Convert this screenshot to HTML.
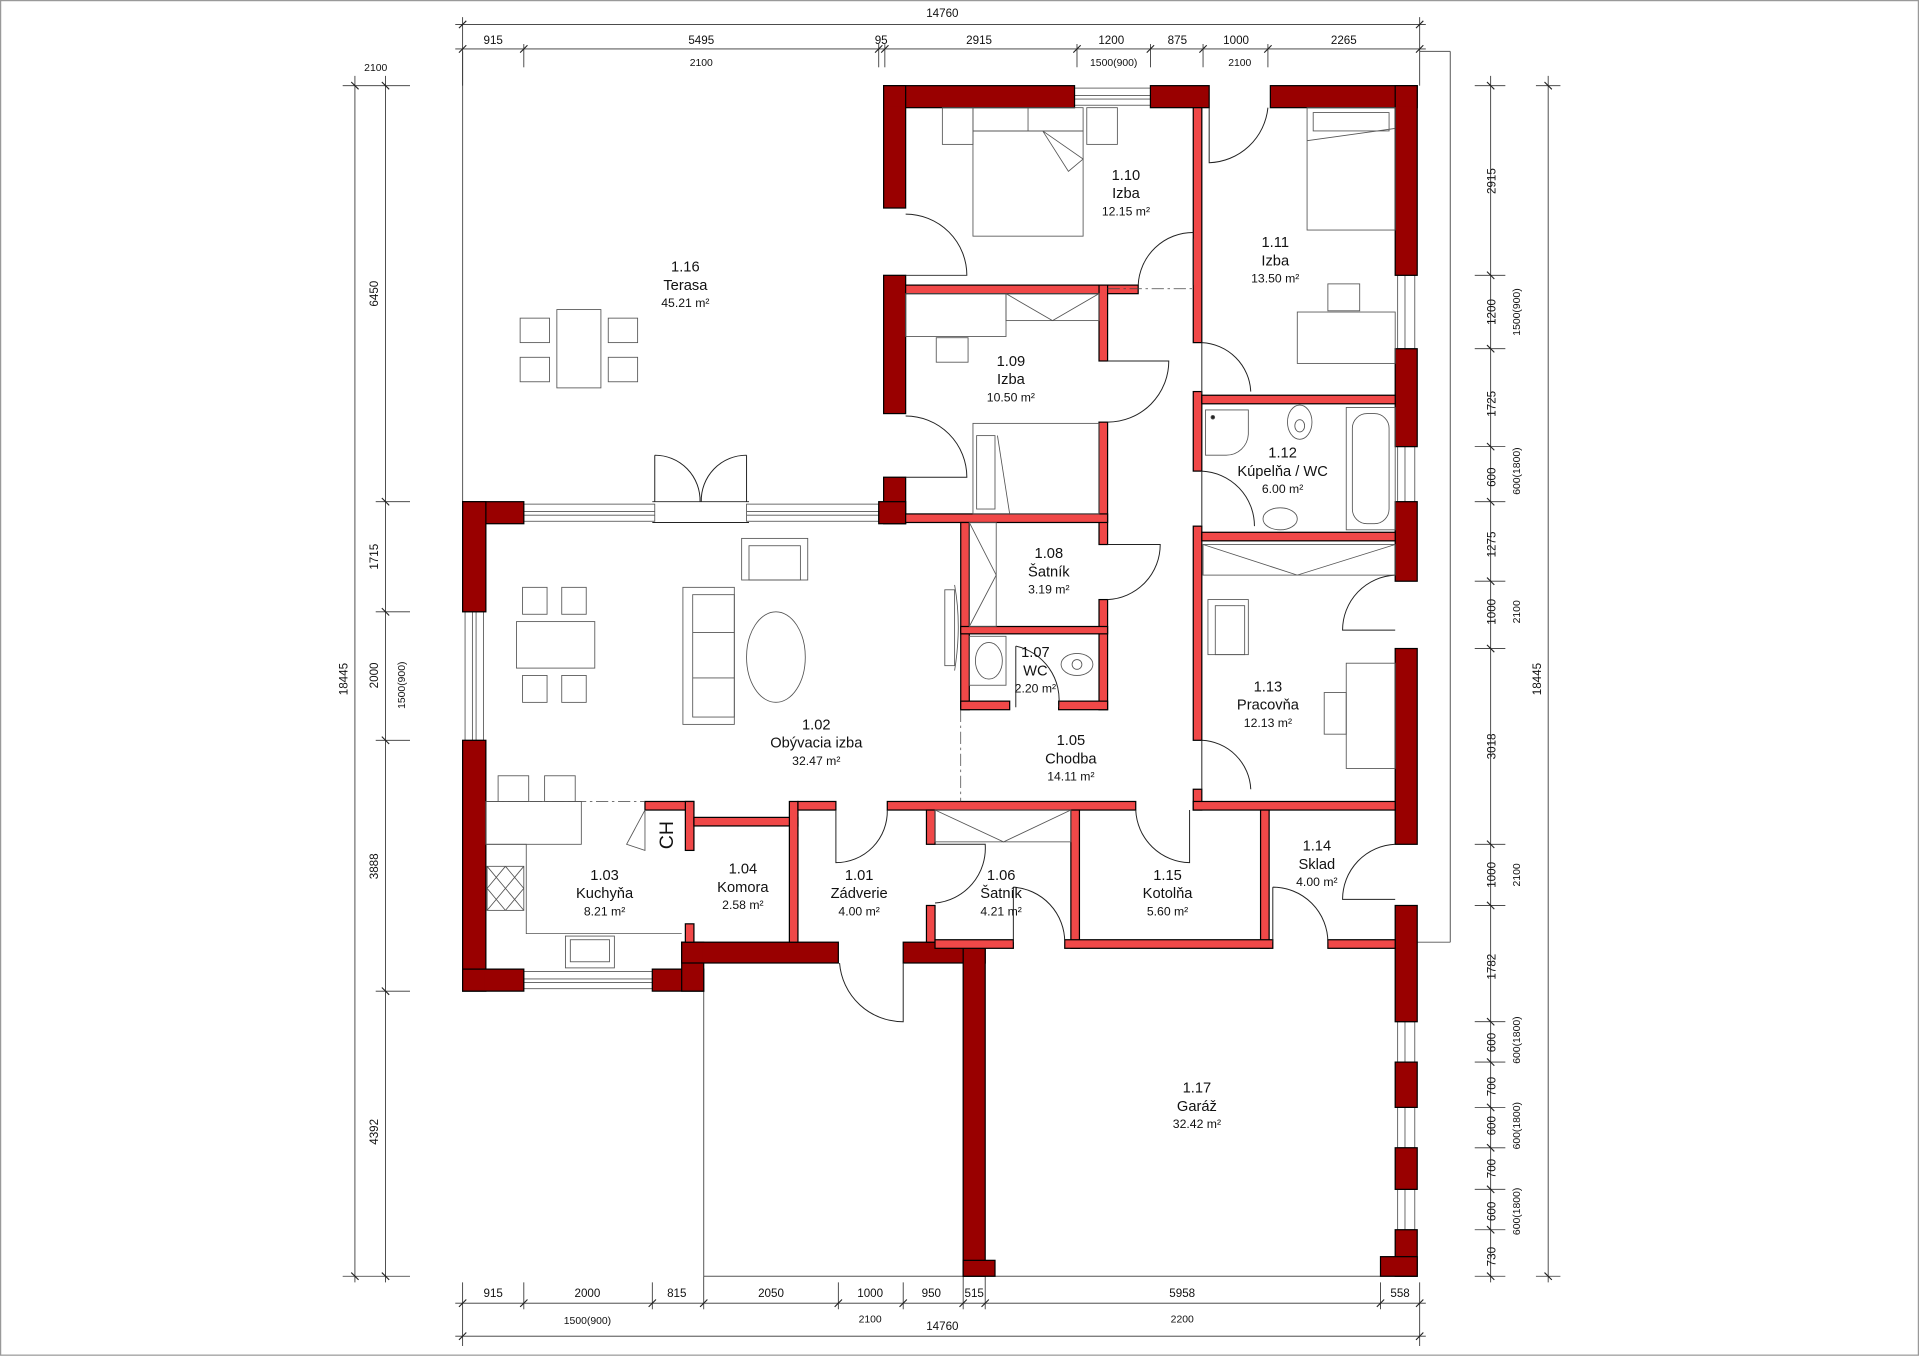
<!DOCTYPE html>
<html><head><meta charset="utf-8"><style>
html,body{margin:0;padding:0;background:#fff;}
svg{display:block;}
text{font-family:"Liberation Sans",sans-serif;fill:#111;}
</style></head><body>
<svg width="1919" height="1357" viewBox="0 0 1568 1109" preserveAspectRatio="none" xmlns="http://www.w3.org/2000/svg">
<rect x="0.5" y="0.5" width="1567" height="1107" fill="#fff" stroke="#999" stroke-width="1"/>

<!-- terrace & outline thin lines -->
<g stroke="#555" stroke-width="0.8" fill="none">
<line x1="378" y1="42" x2="378" y2="410"/>
<line x1="1160" y1="42" x2="1185" y2="42"/>
<line x1="1185" y1="42" x2="1185" y2="770"/>
<line x1="1158" y1="770" x2="1185" y2="770"/>
<line x1="575" y1="810" x2="575" y2="1043"/>
<line x1="575" y1="1043" x2="1158" y2="1043"/>
</g>

<!-- dimension lines -->
<g stroke="#333" stroke-width="0.7" fill="none">
<!-- top -->
<line x1="372" y1="20" x2="1165" y2="20"/>
<line x1="372" y1="40" x2="1165" y2="40"/>
<line x1="378" y1="14" x2="378" y2="70"/><line x1="1160" y1="14" x2="1160" y2="70"/>
<line x1="428" y1="36" x2="428" y2="55"/><line x1="718" y1="36" x2="718" y2="55"/><line x1="723" y1="36" x2="723" y2="55"/>
<line x1="880" y1="36" x2="880" y2="55"/><line x1="940" y1="36" x2="940" y2="55"/><line x1="983" y1="36" x2="983" y2="55"/><line x1="1036" y1="36" x2="1036" y2="55"/>
<!-- left -->
<line x1="290" y1="62" x2="290" y2="1048"/>
<line x1="315" y1="62" x2="315" y2="1048"/>
<line x1="280" y1="70" x2="335" y2="70"/>
<line x1="307" y1="410" x2="335" y2="410"/><line x1="307" y1="500" x2="335" y2="500"/><line x1="307" y1="605" x2="335" y2="605"/><line x1="307" y1="810" x2="335" y2="810"/>
<line x1="280" y1="1043" x2="335" y2="1043"/>
<!-- right -->
<line x1="1218" y1="62" x2="1218" y2="1048"/>
<line x1="1265" y1="62" x2="1265" y2="1048"/>
<line x1="1205" y1="70" x2="1230" y2="70"/><line x1="1255" y1="70" x2="1275" y2="70"/>
<line x1="1205" y1="225" x2="1230" y2="225"/><line x1="1205" y1="285" x2="1230" y2="285"/><line x1="1205" y1="365" x2="1230" y2="365"/><line x1="1205" y1="410" x2="1230" y2="410"/>
<line x1="1205" y1="475" x2="1230" y2="475"/><line x1="1205" y1="530" x2="1230" y2="530"/><line x1="1205" y1="690" x2="1230" y2="690"/><line x1="1205" y1="740" x2="1230" y2="740"/>
<line x1="1205" y1="835" x2="1230" y2="835"/><line x1="1205" y1="868" x2="1230" y2="868"/><line x1="1205" y1="905" x2="1230" y2="905"/><line x1="1205" y1="938" x2="1230" y2="938"/>
<line x1="1205" y1="972" x2="1230" y2="972"/><line x1="1205" y1="1005" x2="1230" y2="1005"/><line x1="1205" y1="1043" x2="1230" y2="1043"/><line x1="1255" y1="1043" x2="1275" y2="1043"/>
<!-- bottom -->
<line x1="372" y1="1065" x2="1165" y2="1065"/>
<line x1="372" y1="1092" x2="1165" y2="1092"/>
<g>
<line x1="378" y1="1048" x2="378" y2="1100"/><line x1="428" y1="1048" x2="428" y2="1070"/><line x1="533" y1="1048" x2="533" y2="1070"/>
<line x1="575" y1="1043" x2="575" y2="1070"/><line x1="685" y1="1048" x2="685" y2="1070"/><line x1="738" y1="1048" x2="738" y2="1070"/>
<line x1="787" y1="1043" x2="787" y2="1070"/><line x1="805" y1="1043" x2="805" y2="1070"/><line x1="1128" y1="1048" x2="1128" y2="1070"/><line x1="1160" y1="1048" x2="1160" y2="1100"/>
</g>
</g>
<!-- ticks -->
<g stroke="#222" stroke-width="0.9">
<path d="M375,23 l6,-6 M1157,23 l6,-6 M375,43 l6,-6 M425,43 l6,-6 M715,43 l6,-6 M720,43 l6,-6 M877,43 l6,-6 M937,43 l6,-6 M980,43 l6,-6 M1033,43 l6,-6 M1157,43 l6,-6"/>
<path d="M287,67 l6,6 M312,67 l6,6 M312,407 l6,6 M312,497 l6,6 M312,602 l6,6 M312,807 l6,6 M287,1040 l6,6 M312,1040 l6,6"/>
<path d="M1215,67 l6,6 M1262,67 l6,6 M1215,222 l6,6 M1215,282 l6,6 M1215,362 l6,6 M1215,407 l6,6 M1215,472 l6,6 M1215,527 l6,6 M1215,687 l6,6 M1215,737 l6,6 M1215,832 l6,6 M1215,865 l6,6 M1215,902 l6,6 M1215,935 l6,6 M1215,969 l6,6 M1215,1002 l6,6 M1215,1040 l6,6 M1262,1040 l6,6"/>
<path d="M375,1068 l6,-6 M425,1068 l6,-6 M530,1068 l6,-6 M572,1068 l6,-6 M682,1068 l6,-6 M735,1068 l6,-6 M784,1068 l6,-6 M802,1068 l6,-6 M1125,1068 l6,-6 M1157,1068 l6,-6 M375,1095 l6,-6 M1157,1095 l6,-6"/>
</g>
<g font-size="9.5" text-anchor="middle">
<text x="770" y="14">14760</text>
<text x="403" y="36">915</text><text x="573" y="36">5495</text><text x="720" y="36">95</text><text x="800" y="36">2915</text>
<text x="908" y="36">1200</text><text x="962" y="36">875</text><text x="1010" y="36">1000</text><text x="1098" y="36">2265</text>
<text x="573" y="54" font-size="8.5">2100</text><text x="910" y="54" font-size="8.5">1500(900)</text><text x="1013" y="54" font-size="8.5">2100</text>
<text x="307" y="58" font-size="8.5">2100</text>
<text x="403" y="1060">915</text><text x="480" y="1060">2000</text><text x="553" y="1060">815</text><text x="630" y="1060">2050</text>
<text x="711" y="1060">1000</text><text x="761" y="1060">950</text><text x="796" y="1060">515</text><text x="966" y="1060">5958</text><text x="1144" y="1060">558</text>
<text x="480" y="1082" font-size="8.5">1500(900)</text><text x="711" y="1081" font-size="8.5">2100</text><text x="966" y="1081" font-size="8.5">2200</text>
<text x="770" y="1087">14760</text>
<text transform="translate(284,555) rotate(-90)">18445</text>
<text transform="translate(309,240) rotate(-90)">6450</text>
<text transform="translate(309,455) rotate(-90)">1715</text>
<text transform="translate(309,552) rotate(-90)">2000</text>
<text transform="translate(309,708) rotate(-90)">3888</text>
<text transform="translate(309,925) rotate(-90)">4392</text>
<text transform="translate(331,560) rotate(-90)" font-size="8.5">1500(900)</text>
<text transform="translate(1259,555) rotate(-90)">18445</text>
<text transform="translate(1222,148) rotate(-90)">2915</text>
<text transform="translate(1222,255) rotate(-90)">1200</text>
<text transform="translate(1222,330) rotate(-90)">1725</text>
<text transform="translate(1222,390) rotate(-90)">600</text>
<text transform="translate(1222,445) rotate(-90)">1275</text>
<text transform="translate(1222,500) rotate(-90)">1000</text>
<text transform="translate(1222,610) rotate(-90)">3018</text>
<text transform="translate(1222,715) rotate(-90)">1000</text>
<text transform="translate(1222,790) rotate(-90)">1782</text>
<text transform="translate(1222,852) rotate(-90)">600</text>
<text transform="translate(1222,888) rotate(-90)">700</text>
<text transform="translate(1222,920) rotate(-90)">600</text>
<text transform="translate(1222,955) rotate(-90)">700</text>
<text transform="translate(1222,990) rotate(-90)">600</text>
<text transform="translate(1222,1027) rotate(-90)">730</text>
<g font-size="8.5">
<text transform="translate(1242,255) rotate(-90)">1500(900)</text>
<text transform="translate(1242,385) rotate(-90)">600(1800)</text>
<text transform="translate(1242,500) rotate(-90)">2100</text>
<text transform="translate(1242,715) rotate(-90)">2100</text>
<text transform="translate(1242,850) rotate(-90)">600(1800)</text>
<text transform="translate(1242,920) rotate(-90)">600(1800)</text>
<text transform="translate(1242,990) rotate(-90)">600(1800)</text>
</g>
</g>

<!-- windows (glazing) -->
<g fill="#fff" stroke="#555" stroke-width="0.7">
<rect x="878" y="72" width="62" height="14"/><line x1="878" y1="78" x2="940" y2="78"/><line x1="878" y1="81" x2="940" y2="81"/>
<rect x="1142" y="225" width="14" height="60"/><line x1="1148" y1="225" x2="1148" y2="285"/>
<rect x="1142" y="365" width="14" height="45"/><line x1="1148" y1="365" x2="1148" y2="410"/>
<rect x="1142" y="835" width="14" height="33"/><line x1="1148" y1="835" x2="1148" y2="868"/>
<rect x="1142" y="905" width="14" height="33"/><line x1="1148" y1="905" x2="1148" y2="938"/>
<rect x="1142" y="972" width="14" height="33"/><line x1="1148" y1="972" x2="1148" y2="1005"/>
<rect x="380" y="500" width="15" height="105"/><line x1="386" y1="500" x2="386" y2="605"/><line x1="389" y1="500" x2="389" y2="605"/>
<rect x="428" y="412" width="107" height="14"/><line x1="428" y1="418" x2="535" y2="418"/><line x1="428" y1="421" x2="535" y2="421"/>
<rect x="610" y="412" width="108" height="14"/><line x1="610" y1="418" x2="718" y2="418"/><line x1="610" y1="421" x2="718" y2="421"/>
<rect x="428" y="794" width="105" height="14"/><line x1="428" y1="800" x2="533" y2="800"/><line x1="428" y1="803" x2="533" y2="803"/>
</g>

<!-- outer walls -->
<g fill="#990000" stroke="#000" stroke-width="1">
<rect x="722" y="70" width="156" height="18"/>
<rect x="940" y="70" width="48" height="18"/>
<rect x="1038" y="70" width="120" height="18"/>
<rect x="722" y="70" width="18" height="100"/>
<rect x="722" y="225" width="18" height="113"/>
<rect x="722" y="390" width="18" height="38"/>
<rect x="1140" y="70" width="18" height="155"/>
<rect x="1140" y="285" width="18" height="80"/>
<rect x="1140" y="410" width="18" height="65"/>
<rect x="1140" y="530" width="18" height="160"/>
<rect x="1140" y="740" width="18" height="95"/>
<rect x="1140" y="868" width="18" height="37"/>
<rect x="1140" y="938" width="18" height="34"/>
<rect x="1140" y="1005" width="18" height="38"/>
<rect x="1128" y="1027" width="30" height="16"/>
<rect x="378" y="410" width="50" height="18"/>
<rect x="378" y="410" width="19" height="90"/>
<rect x="718" y="410" width="22" height="18"/>
<rect x="378" y="605" width="19" height="205"/>
<rect x="378" y="792" width="50" height="18"/>
<rect x="533" y="792" width="42" height="18"/>
<rect x="557" y="770" width="18" height="40"/>
<rect x="557" y="770" width="128" height="17"/>
<rect x="738" y="770" width="67" height="17"/>
<rect x="787" y="770" width="18" height="273"/>
<rect x="787" y="1030" width="26" height="13"/>
</g>
<!-- fix overlapping outlines -->
<g fill="#990000">
<rect x="723" y="71" width="16" height="16"/><rect x="1141" y="71" width="16" height="16"/>
<rect x="379" y="411" width="17" height="16"/><rect x="379" y="793" width="17" height="16"/>
<rect x="558" y="771" width="16" height="15"/><rect x="558" y="793" width="16" height="16"/>
<rect x="788" y="771" width="16" height="15"/><rect x="788" y="1031" width="16" height="11"/><rect x="1141" y="1028" width="16" height="14"/>
</g>

<!-- interior walls -->
<g fill="#f04848" stroke="#000" stroke-width="1">
<rect x="740" y="233" width="190" height="7"/>
<rect x="898" y="233" width="7" height="62"/>
<rect x="898" y="345" width="7" height="100"/>
<rect x="898" y="490" width="7" height="90"/>
<rect x="975" y="88" width="7" height="192"/>
<rect x="975" y="320" width="7" height="65"/>
<rect x="975" y="430" width="7" height="175"/>
<rect x="975" y="645" width="7" height="17"/>
<rect x="982" y="323" width="158" height="7"/>
<rect x="982" y="435" width="158" height="7"/>
<rect x="740" y="420" width="165" height="7"/>
<rect x="785" y="427" width="7" height="153"/>
<rect x="785" y="512" width="120" height="6"/>
<rect x="785" y="573" width="40" height="7"/>
<rect x="865" y="573" width="40" height="7"/>
<rect x="527" y="655" width="40" height="7"/>
<rect x="560" y="655" width="7" height="40"/>
<rect x="560" y="755" width="7" height="15"/>
<rect x="567" y="668" width="85" height="7"/>
<rect x="645" y="655" width="7" height="115"/>
<rect x="652" y="655" width="31" height="7"/>
<rect x="725" y="655" width="203" height="7"/>
<rect x="975" y="655" width="165" height="7"/>
<rect x="757" y="662" width="7" height="28"/>
<rect x="757" y="740" width="7" height="30"/>
<rect x="875" y="662" width="7" height="113"/>
<rect x="1030" y="662" width="7" height="113"/>
<rect x="764" y="768" width="64" height="7"/>
<rect x="870" y="768" width="170" height="7"/>
<rect x="1085" y="768" width="55" height="7"/>
</g>

<!-- door swings & openings -->
<g fill="none" stroke="#222" stroke-width="0.8">
<path d="M740,225 L790,225 A50,50 0 0 0 740,175"/>
<path d="M740,390 L790,390 A50,50 0 0 0 740,340"/>
<path d="M975,195 L975,233 M930,233 A45,45 0 0 1 975,190"/>
<path d="M988,88 L988,133 A50,50 0 0 0 1036,88"/>
<path d="M982,280 L982,322 M982,280 A42,42 0 0 1 1022,320"/>
<path d="M982,385 L982,430 M982,385 A45,45 0 0 1 1025,430"/>
<path d="M982,605 L982,645 M982,605 A42,42 0 0 1 1022,645"/>
<path d="M905,295 L935,295 M905,345 A50,50 0 0 0 955,295 L905,295"/>
<path d="M905,445 L948,445 A45,45 0 0 1 905,490"/>
<path d="M830,528 L830,578 M830,528 A45,45 0 0 1 865,578"/>
<path d="M1140,470 A45,45 0 0 0 1097,515 L1140,515"/>
<path d="M1140,690 A45,45 0 0 0 1097,735 L1140,735"/>
<path d="M1040,725 L1040,770 M1040,725 A45,45 0 0 1 1085,770"/>
<path d="M683,662 L683,705 A42,42 0 0 0 725,662"/>
<path d="M928,662 A45,45 0 0 0 972,705 L972,662"/>
<path d="M764,690 L805,690 A45,45 0 0 1 764,738"/>
<path d="M828,725 L828,770 M828,725 A45,45 0 0 1 870,770"/>
<path d="M738,787 L738,835 A52,52 0 0 1 686,787"/>
<path d="M535,372 L535,410 M535,372 A37,37 0 0 1 572,410 M610,372 L610,410 M610,372 A37,37 0 0 0 573,410"/>
<line x1="533" y1="410" x2="612" y2="410"/><line x1="533" y1="427" x2="612" y2="427"/>
</g>
<g stroke="#444" stroke-width="0.6" stroke-dasharray="10,3,2,3" fill="none">
<line x1="785" y1="580" x2="785" y2="655"/>
<line x1="397" y1="655" x2="527" y2="655"/>
<line x1="905" y1="236" x2="975" y2="236"/>
</g>

<!-- furniture -->
<g fill="none" stroke="#555" stroke-width="0.7">
<!-- terrace -->
<rect x="455" y="253" width="36" height="64"/>
<rect x="425" y="260" width="24" height="20"/><rect x="425" y="292" width="24" height="20"/>
<rect x="497" y="260" width="24" height="20"/><rect x="497" y="292" width="24" height="20"/>
<!-- living -->
<rect x="422" y="508" width="64" height="38"/>
<rect x="427" y="480" width="20" height="22"/><rect x="459" y="480" width="20" height="22"/>
<rect x="427" y="552" width="20" height="22"/><rect x="459" y="552" width="20" height="22"/>
<rect x="558" y="480" width="42" height="112"/><rect x="566" y="486" width="34" height="100"/>
<line x1="566" y1="517" x2="600" y2="517"/><line x1="566" y1="554" x2="600" y2="554"/>
<ellipse cx="634" cy="537" rx="24" ry="37"/>
<rect x="606" y="440" width="54" height="34"/><rect x="612" y="446" width="42" height="28"/>
<rect x="772" y="482" width="8" height="62"/><path d="M780,478 q6,33 0,70"/>
<!-- kitchen -->
<rect x="397" y="655" width="78" height="35"/>
<rect x="407" y="634" width="25" height="21"/><rect x="445" y="634" width="25" height="21"/>
<polyline points="397,690 430,690 430,763 557,763"/>
<rect x="398" y="708" width="30" height="36"/>
<path d="M398,708 l15,18 M413,708 l-15,18 M413,708 l15,18 M428,708 l-15,18 M398,726 l15,18 M413,726 l-15,18 M413,726 l15,18 M428,726 l-15,18"/>
<rect x="462" y="765" width="40" height="26"/><rect x="466" y="768" width="32" height="18"/>
<path d="M527,662 L527,695 L512,690 Z"/>
<!-- 1.10 -->
<rect x="795" y="107" width="90" height="86"/><line x1="795" y1="107" x2="885" y2="107"/>
<rect x="770" y="88" width="25" height="30"/><rect x="888" y="88" width="25" height="30"/><rect x="795" y="88" width="90" height="19"/><line x1="840" y1="88" x2="840" y2="107"/>
<path d="M852,107 L885,130 L873,140 Z"/>
<!-- 1.11 -->
<rect x="1068" y="88" width="72" height="100"/><rect x="1073" y="92" width="62" height="15"/><line x1="1068" y1="115" x2="1140" y2="105"/>
<rect x="1060" y="255" width="80" height="42"/><rect x="1085" y="232" width="26" height="22"/>
<!-- 1.09 -->
<rect x="740" y="240" width="82" height="35"/><rect x="822" y="240" width="76" height="22"/><path d="M822,240 L860,262 L898,240"/>
<rect x="765" y="276" width="26" height="20"/>
<rect x="795" y="346" width="103" height="74"/><rect x="798" y="356" width="15" height="60"/><line x1="815" y1="356" x2="825" y2="420"/>
<!-- 1.12 -->
<path d="M985,335 L1020,335 L1020,355 A18,18 0 0 1 1002,372 L985,372 Z"/><circle cx="991" cy="341" r="1.5" fill="#222"/>
<ellipse cx="1062" cy="345" rx="10" ry="14"/><ellipse cx="1062" cy="348" rx="4" ry="5"/>
<rect x="1100" y="333" width="40" height="100"/><rect x="1105" y="338" width="30" height="90" rx="12"/>
<ellipse cx="1046" cy="424" rx="14" ry="9"/>
<!-- 1.13 -->
<rect x="983" y="445" width="157" height="25"/><path d="M983,445 L1060,470 L1140,445"/>
<rect x="987" y="490" width="33" height="45"/><rect x="993" y="495" width="24" height="40"/>
<rect x="1100" y="542" width="40" height="86"/><rect x="1082" y="566" width="18" height="34"/>
<!-- 1.08 -->
<rect x="792" y="427" width="22" height="85"/><path d="M792,427 L814,470 L792,512"/>
<!-- 1.07 -->
<rect x="792" y="520" width="30" height="40"/><ellipse cx="808" cy="540" rx="11" ry="15"/>
<ellipse cx="880" cy="543" rx="13" ry="9"/><ellipse cx="880" cy="543" rx="4" ry="4"/>
<!-- 1.06 -->
<rect x="764" y="662" width="111" height="26"/><path d="M764,662 L820,688 L875,662"/>
</g>

<!-- CH -->
<text transform="translate(550,694) rotate(-90)" font-size="16" font-weight="normal">CH</text>

<!-- room labels -->
<g text-anchor="middle" font-size="12">
<text x="560" y="222">1.16</text><text x="560" y="237">Terasa</text><text x="560" y="251" font-size="10">45.21 m²</text>
<text x="920" y="147">1.10</text><text x="920" y="162">Izba</text><text x="920" y="176" font-size="10">12.15 m²</text>
<text x="1042" y="202">1.11</text><text x="1042" y="217">Izba</text><text x="1042" y="231" font-size="10">13.50 m²</text>
<text x="826" y="299">1.09</text><text x="826" y="314">Izba</text><text x="826" y="328" font-size="10">10.50 m²</text>
<text x="1048" y="374">1.12</text><text x="1048" y="389">Kúpelňa / WC</text><text x="1048" y="403" font-size="10">6.00 m²</text>
<text x="857" y="456">1.08</text><text x="857" y="471">Šatník</text><text x="857" y="485" font-size="10">3.19 m²</text>
<text x="846" y="537">1.07</text><text x="846" y="552">WC</text><text x="846" y="566" font-size="10">2.20 m²</text>
<text x="1036" y="565">1.13</text><text x="1036" y="580">Pracovňa</text><text x="1036" y="594" font-size="10">12.13 m²</text>
<text x="667" y="596">1.02</text><text x="667" y="611">Obývacia izba</text><text x="667" y="625" font-size="10">32.47 m²</text>
<text x="875" y="609">1.05</text><text x="875" y="624">Chodba</text><text x="875" y="638" font-size="10">14.11 m²</text>
<text x="1076" y="695">1.14</text><text x="1076" y="710">Sklad</text><text x="1076" y="724" font-size="10">4.00 m²</text>
<text x="494" y="719">1.03</text><text x="494" y="734">Kuchyňa</text><text x="494" y="748" font-size="10">8.21 m²</text>
<text x="607" y="714">1.04</text><text x="607" y="729">Komora</text><text x="607" y="743" font-size="10">2.58 m²</text>
<text x="702" y="719">1.01</text><text x="702" y="734">Zádverie</text><text x="702" y="748" font-size="10">4.00 m²</text>
<text x="818" y="719">1.06</text><text x="818" y="734">Šatník</text><text x="818" y="748" font-size="10">4.21 m²</text>
<text x="954" y="719">1.15</text><text x="954" y="734">Kotolňa</text><text x="954" y="748" font-size="10">5.60 m²</text>
<text x="978" y="893">1.17</text><text x="978" y="908">Garáž</text><text x="978" y="922" font-size="10">32.42 m²</text>
</g>
</svg>
</body></html>
